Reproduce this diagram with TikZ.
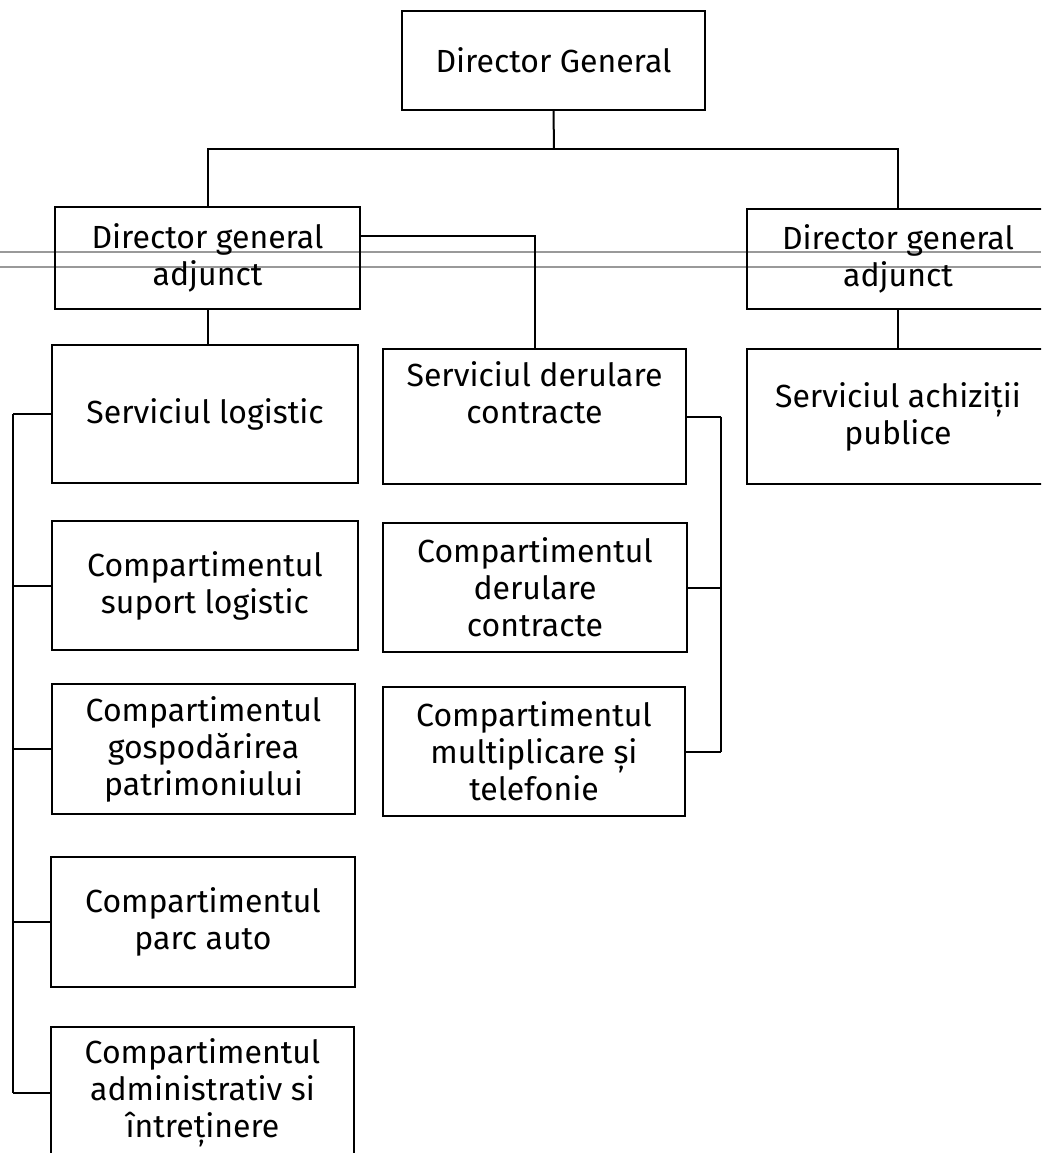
\documentclass[tikz,border=0pt]{standalone}
\usepackage{fontspec}
\setmainfont{Fira Sans}
\begin{document}
\begin{tikzpicture}[x=1pt,y=-1pt,
  box/.style={draw=black, line width=2pt, align=center, inner sep=0pt,
    font=\fontsize{32}{37}\selectfont, text=black},
  conn/.style={draw=black, line width=2pt},
  scanline/.style={draw=black!40, line width=1.2pt}]
\clip (0,0) rectangle (1041,1153);
\fill[white] (0,0) rectangle (1041,1153);
% scan artefact lines
\draw[scanline] (0,252) -- (1041,252);
\draw[scanline] (0,267) -- (1041,267);
% boxes
\node[box, minimum width=303, minimum height=99] (dg) at (553.5,60.5) {Director General};
\node[box, minimum width=305, minimum height=102] (dga1) at (207.5,258) {Director general\\adjunct};
\node[box, minimum width=302, minimum height=100] (dga2) at (898,259) {Director general\\adjunct};
\node[box, minimum width=306, minimum height=138] (sl) at (205,414) {Serviciul logistic};
\node[box, minimum width=303, minimum height=135] (sdc) at (534.5,416.5) {Serviciul derulare\\contracte\\\strut};
\node[box, minimum width=302, minimum height=135] (sap) at (898,416.5) {Serviciul achiziții\\publice};
\node[box, minimum width=306, minimum height=129] (csl) at (205,585.5) {Compartimentul\\suport logistic};
\node[box, minimum width=304, minimum height=129] (cdc) at (535,587.5) {Compartimentul\\derulare\\contracte};
\node[box, minimum width=303, minimum height=130] (cgp) at (203.5,749) {Compartimentul\\gospodărirea\\patrimoniului};
\node[box, minimum width=302, minimum height=129] (cmt) at (534,751.5) {Compartimentul\\multiplicare și\\telefonie};
\node[box, minimum width=304, minimum height=130] (cpa) at (203,922) {Compartimentul\\parc auto};
\node[box, minimum width=303, minimum height=132] (cai) at (202.5,1093) {Compartimentul\\administrativ si\\întreținere};
% connector helpers
\coordinate (bus) at (554,149);
\coordinate (k1) at (360,236);
\coordinate (lbus) at (13,0);
\coordinate (rbus) at (721,0);
% top level
\draw[conn] (dg.south) -- (bus);
\draw[conn] (dga1.north) |- (bus) -| (dga2.north);
% left deputy
\draw[conn] (k1) -| (sdc.north);
\draw[conn] (dga1.south) -- (dga1.south |- sl.north);
% right deputy
\draw[conn] (dga2.south) -- (sap.north);
% left bracket
\draw[conn] (sl.west -| lbus) -- (cai.west -| lbus);
\draw[conn] (sl.west) -- (sl.west -| lbus);
\draw[conn] (csl.west) -- (csl.west -| lbus);
\draw[conn] (cgp.west) -- (cgp.west -| lbus);
\draw[conn] (cpa.west) -- (cpa.west -| lbus);
\draw[conn] (cai.west) -- (cai.west -| lbus);
% right bracket
\draw[conn] (sdc.east -| rbus) -- (cmt.east -| rbus);
\draw[conn] (sdc.east) -- (sdc.east -| rbus);
\draw[conn] (cdc.east) -- (cdc.east -| rbus);
\draw[conn] (cmt.east) -- (cmt.east -| rbus);
\end{tikzpicture}
\end{document}
